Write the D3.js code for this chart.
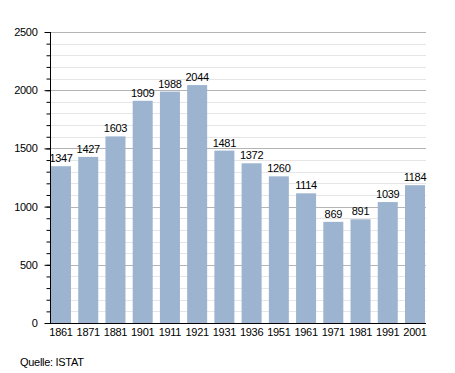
<!DOCTYPE html>
<html>
<head>
<meta charset="utf-8">
<script src="https://cdn.jsdelivr.net/npm/d3@7"></script>
<style>
  body { margin:0; background:#fff; }
  text { font-family: "Liberation Sans", Arial, sans-serif; letter-spacing: -0.3px; }
</style>
</head>
<body>
<div id="chart"></div>
<script>
var years  = ["1861","1871","1881","1901","1911","1921","1931","1936","1951","1961","1971","1981","1991","2001"];
var values = [1347, 1427, 1603, 1909, 1988, 2044, 1481, 1372, 1260, 1114, 869, 891, 1039, 1184];
var majorTicks = [0, 500, 1000, 1500, 2000, 2500];
var source = "Quelle: ISTAT";

var margin = { top: 32, right: 29, bottom: 50, left: 50 },
    width = 455 - margin.left - margin.right,
    height = 373 - margin.top - margin.bottom;

var svg = d3.select("#chart").append("svg")
    .attr("width", 455).attr("height", 373)
  .append("g")
    .attr("transform", "translate(" + margin.left + "," + margin.top + ")");

var x = d3.scaleBand().domain(years).range([1, width - 1]).paddingInner(0.265).paddingOuter(0);
var y = d3.scaleLinear().domain([0, 2500]).range([height, 0]);

// minor grid every 100
svg.append("g").selectAll("line")
    .data(d3.range(100, 2501, 100).filter(function(v){ return v % 500 != 0; }))
  .enter().append("line")
    .attr("x1", 0).attr("x2", width)
    .attr("y1", function(d){ return Math.round(y(d)) + 0.5; })
    .attr("y2", function(d){ return Math.round(y(d)) + 0.5; })
    .attr("stroke", "#e6e6e6").attr("stroke-width", 1);

// major grid
svg.append("g").selectAll("line")
    .data(majorTicks.slice(1))
  .enter().append("line")
    .attr("x1", 0).attr("x2", width)
    .attr("y1", function(d){ return Math.round(y(d)) + 0.5; })
    .attr("y2", function(d){ return Math.round(y(d)) + 0.5; })
    .attr("stroke", "#b4b4b4").attr("stroke-width", 1);

// bars
svg.append("g").selectAll("rect")
    .data(values)
  .enter().append("rect")
    .attr("x", function(d, i){ return x(years[i]); })
    .attr("y", function(d){ return y(d); })
    .attr("width", x.bandwidth())
    .attr("height", function(d){ return height - y(d); })
    .attr("fill", "#9cb4d0");

// value labels
svg.append("g").selectAll("text")
    .data(values)
  .enter().append("text")
    .attr("x", function(d, i){ return x(years[i]) + x.bandwidth()/2; })
    .attr("y", function(d){ return y(d) - 4; })
    .attr("text-anchor", "middle")
    .attr("font-size", "11px")
    .attr("fill", "#000")
    .text(function(d){ return d; });

// y axis minor ticks
svg.append("g")
    .attr("transform", "translate(0.5,0)")
    .call(d3.axisLeft(y).tickValues(d3.range(0, 2501, 100)).tickSize(4).tickFormat(""))
    .call(function(g){ g.select(".domain").remove(); });

// y axis major
var yAxis = svg.append("g")
    .attr("transform", "translate(0.5,0)")
    .call(d3.axisLeft(y).tickValues(majorTicks).tickSize(6).tickPadding(7).tickFormat(d3.format("d")));
yAxis.selectAll("text").attr("font-size", "11px").attr("font-family", "Liberation Sans, Arial, sans-serif");
yAxis.select(".domain").attr("d", "M0,0V" + height).attr("stroke", "#000");

// x axis
var xAxis = svg.append("g")
    .attr("transform", "translate(0," + (height + 0.5) + ")")
    .call(d3.axisBottom(x).tickSize(0).tickPadding(5));
xAxis.selectAll("text").attr("font-size", "11px").attr("font-family", "Liberation Sans, Arial, sans-serif");
xAxis.select(".domain").attr("d", "M0,0H" + width).attr("stroke", "#000");

svg.append("text")
    .attr("x", 20 - margin.left)
    .attr("y", 366 - margin.top)
    .attr("font-size", "11px")
    .text(source);
</script>
</body>
</html>
